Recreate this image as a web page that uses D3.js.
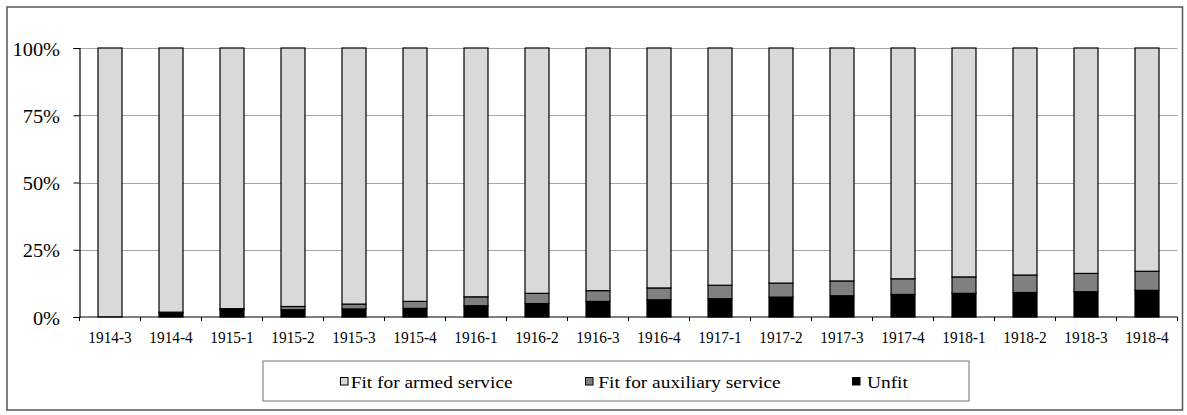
<!DOCTYPE html>
<html>
<head>
<meta charset="utf-8">
<script src="https://cdn.jsdelivr.net/npm/d3@7"></script>
<style>
  html, body { margin: 0; padding: 0; background: #fff; }
  svg { display: block; }
</style>
</head>
<body>
<svg id="chart" width="1187" height="415"></svg>
<script>
// Quarterly share of examined men by fitness category (percent)
const quarters = ["1914-3","1914-4","1915-1","1915-2","1915-3","1915-4",
                  "1916-1","1916-2","1916-3","1916-4","1917-1","1917-2",
                  "1917-3","1917-4","1918-1","1918-2","1918-3","1918-4"];
const unfit     = [0, 1.6, 2.7, 2.7, 3.0, 3.2, 4.2, 5.0, 5.8, 6.4, 6.8, 7.4, 7.9, 8.4, 8.8, 9.1, 9.4, 9.9];
const auxiliary = [0, 0.2, 0.4, 1.2, 1.8, 2.6, 3.3, 3.8, 4.0, 4.4, 5.0, 5.2, 5.5, 5.8, 6.1, 6.5, 6.8, 7.1];
const armed     = unfit.map((u, i) => 100 - u - auxiliary[i]);
const yTicks    = [0, 25, 50, 75, 100];

const seriesNames  = ["Fit for armed service", "Fit for auxiliary service", "Unfit"];
const seriesColors = ["#d9d9d9", "#808080", "#000000"];

const svg = d3.select("#chart");

// Choose the installed serif face closest to Times proportions, and work out
// how to size/scale it so glyphs keep Times-like height and width.
const TIMES_W = 835.9;   // width of the probe string at 100px in Times metrics
const font = (function () {
  const probeStr = "Fit for armed service";
  const probe = svg.append("text").attr("x", -3000).attr("y", -3000).style("font-size", "100px").text(probeStr);
  const width = fam => { probe.style("font-family", fam); return probe.node().getComputedTextLength(); };
  const monoW = width("monospace");
  const candidates = [
    ["Liberation Serif", 0.662], ["Times New Roman", 0.662], ["Tinos", 0.662], ["Times", 0.662],
    ["Nimbus Roman", 0.662], ["FreeSerif", 0.662], ["Noto Serif", 0.714],
    ["DejaVu Serif Condensed", 0.729], ["DejaVu Serif", 0.729]
  ];
  let best = null;
  for (const [name, cap] of candidates) {
    const w = width(`"${name}", monospace`);
    if (Math.abs(w - monoW) < 0.5) continue;          // not installed
    const score = Math.abs(w / TIMES_W - 1);
    if (!best || score < best.score) best = { name, cap, w, score };
  }
  if (!best) best = { name: "serif", cap: 0.729, w: width("serif") };
  probe.remove();
  const sizeFactor = 0.662 / best.cap;
  const widthFactor = (TIMES_W / best.w) / sizeFactor;
  return { family: `"${best.name}", serif`, sizeFactor, widthFactor };
})();

// apply a Times-equivalent size and horizontal stretch to a text selection
function styleText(sel, size, stretch, tx, ty) {
  sel.style("font-family", font.family)
     .style("font-size", (size * font.sizeFactor) + "px")
     .attr("fill", "#000");
  if (typeof tx === "function" || typeof tx === "number") {
    sel.attr("transform", (d, i) => {
      const X = typeof tx === "function" ? tx(d, i) : tx;
      const Y = typeof ty === "function" ? ty(d, i) : ty;
      return `translate(${X},${Y}) scale(${stretch * font.widthFactor},1)`;
    });
  }
  return sel;
}

// outer frame
svg.append("rect")
  .attr("x", 7).attr("y", 7).attr("width", 1175.5).attr("height", 403)
  .attr("fill", "none").attr("stroke", "#555").attr("stroke-width", 1.5);

const plot = { left: 79.5, right: 1177.5, top: 48, bottom: 317 };

const xBand = d3.scaleBand().domain(quarters).range([plot.left, plot.right]);
const y = d3.scaleLinear().domain([0, 100]).range([plot.bottom, plot.top]);

// horizontal gridlines
svg.append("g")
  .selectAll("line")
  .data(yTicks.filter(d => d > 0))
  .join("line")
  .attr("x1", plot.left).attr("x2", plot.right)
  .attr("y1", d => Math.round(y(d)) + 0.5).attr("y2", d => Math.round(y(d)) + 0.5)
  .attr("stroke", "#a6a6a6").attr("stroke-width", 1);

// stacked bars, bottom to top: unfit, auxiliary, armed
const rows = quarters.map((q, i) => ({ q, unfit: unfit[i], auxiliary: auxiliary[i], armed: armed[i] }));
const layers = d3.stack().keys(["unfit", "auxiliary", "armed"])(rows);
const layerColor = { unfit: seriesColors[2], auxiliary: seriesColors[1], armed: seriesColors[0] };

const barW = 24;
svg.append("g")
  .selectAll("g")
  .data(layers)
  .join("g")
  .attr("fill", d => layerColor[d.key])
  .selectAll("rect")
  .data(d => d.filter(s => s[1] - s[0] > 0))
  .join("rect")
  .attr("x", d => xBand(d.data.q) + xBand.bandwidth() / 2 - barW / 2)
  .attr("width", barW)
  .attr("y", d => y(d[1]))
  .attr("height", d => y(d[0]) - y(d[1]))
  .attr("stroke", "#000").attr("stroke-width", 1.2);

// y axis
const yAxis = d3.axisLeft(y).tickValues(yTicks).tickSize(6).tickFormat(d => d + "%");
const gy = svg.append("g").attr("transform", `translate(${plot.left},0)`).call(yAxis);
gy.select(".domain").attr("stroke", "#000").attr("stroke-width", 1.2);
gy.selectAll(".tick line").attr("stroke", "#000");
const yLabels = gy.selectAll(".tick text")
  .attr("x", 0).attr("dy", null).attr("y", 0)
  .attr("text-anchor", "end");
styleText(yLabels, 18, 1.13, -19.5, 7);

// x axis: ticks at category boundaries
const gx = svg.append("g").attr("transform", `translate(0,${plot.bottom})`);
gx.append("line").attr("x1", plot.left).attr("x2", plot.right).attr("y1", 0).attr("y2", 0)
  .attr("stroke", "#000").attr("stroke-width", 1.2);
const bounds = quarters.map(q => xBand(q)).concat([plot.right]);
gx.selectAll("line.tk").data(bounds).join("line").attr("class", "tk")
  .attr("x1", d => d).attr("x2", d => d).attr("y1", 0).attr("y2", 4)
  .attr("stroke", "#000");
const xLabels = gx.selectAll("text").data(quarters).join("text")
  .attr("text-anchor", "middle")
  .text(d => d);
styleText(xLabels, 15.8, 0.97, d => xBand(d) + xBand.bandwidth() / 2, 25.5);

// legend
const lg = svg.append("g");
lg.append("rect").attr("x", 263).attr("y", 361).attr("width", 706).attr("height", 40)
  .attr("fill", "#fff").attr("stroke", "#888").attr("stroke-width", 1.2);
const legendX = [340, 585, 852];
const legendGap = [10.7, 13.3, 15];
const items = lg.selectAll("g.item").data(seriesNames).join("g").attr("class", "item")
  .attr("transform", (d, i) => `translate(${legendX[i]},0)`);
items.append("rect").attr("x", 0.5).attr("y", 377.5).attr("width", 7.5).attr("height", 7.5)
  .attr("fill", (d, i) => seriesColors[i]).attr("stroke", "#000").attr("stroke-width", 1);
const legendText = items.append("text").text(d => d);
styleText(legendText, 17, 1.14, (d, i) => legendGap[i], 387.5);
</script>
</body>
</html>
